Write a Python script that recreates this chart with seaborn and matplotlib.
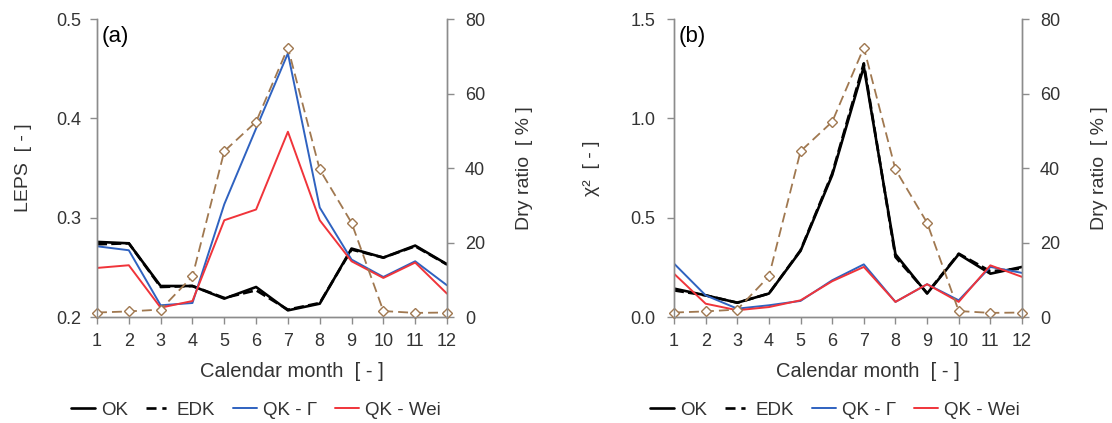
import numpy as np
import pandas as pd
import seaborn as sns
import matplotlib.pyplot as plt
from matplotlib.lines import Line2D

# ---- data -------------------------------------------------------------
months = list(range(1, 13))
dry_ratio = [1.2, 1.5, 2.0, 10.9, 44.5, 52.4, 72.3, 39.6, 25.3, 1.6, 1.1, 1.2]

leps_ok = [0.2756, 0.2742, 0.2312, 0.2312, 0.2185, 0.2302, 0.2067, 0.2134, 0.2689, 0.2598, 0.2719, 0.2531]
leps_edk = [0.2732, 0.2742, 0.2302, 0.2312, 0.2192, 0.2269, 0.2074, 0.2141, 0.2679, 0.2598, 0.2712, 0.2528]
leps_qk_gamma = [0.2712, 0.2672, 0.2118, 0.2141, 0.3135, 0.3898, 0.4654, 0.3102, 0.2578, 0.2403, 0.2561, 0.2319]
leps_qk_wei = [0.2494, 0.2521, 0.2094, 0.2161, 0.2974, 0.3082, 0.3865, 0.2974, 0.2561, 0.2393, 0.2548, 0.2235]

chi_ok = [0.143, 0.109, 0.072, 0.118, 0.333, 0.714, 1.260, 0.316, 0.118, 0.316, 0.218, 0.252]
chi_edk = [0.134, 0.109, 0.072, 0.118, 0.336, 0.722, 1.277, 0.302, 0.121, 0.319, 0.230, 0.244]
chi_qk_gamma = [0.269, 0.109, 0.042, 0.059, 0.081, 0.185, 0.265, 0.076, 0.165, 0.084, 0.252, 0.222]
chi_qk_wei = [0.218, 0.067, 0.034, 0.050, 0.084, 0.180, 0.252, 0.076, 0.165, 0.076, 0.260, 0.202]

method_names = ["OK", "EDK", "QK - Γ", "QK - Wei"]

# ---- styling ----------------------------------------------------------
sns.set_style("white")
plt.rcParams["font.family"] = ["Liberation Sans", "DejaVu Sans"]

TEXT = "#333333"
SPINE = "#8c8c8c"
BROWN = "#a07850"
TICK_FS = 13
LABEL_FS = 14
styles = {
    "OK": dict(color="black", lw=1.9, ls="-"),
    "EDK": dict(color="black", lw=1.9, ls=(0, (3.8, 1.6))),
    "QK - Γ": dict(color="#2f62c0", lw=1.4, ls="-"),
    "QK - Wei": dict(color="#f0343a", lw=1.4, ls="-"),
}


def draw_panel(ax, series, ylim, yticks, ylabel, tag, lpad, ylpad, rlpad):
    df = pd.DataFrame({"month": months * 4,
                       "value": sum(series, []),
                       "method": sum([[m] * 12 for m in method_names], [])})
    for m in ["EDK", "OK", "QK - Γ", "QK - Wei"]:
        st = styles[m]
        sub = df[df["method"] == m]
        sns.lineplot(data=sub, x="month", y="value", ax=ax, color=st["color"],
                     linewidth=st["lw"], linestyle=st["ls"], legend=False)
    ax.set_xlim(1, 12)
    ax.set_ylim(*ylim)
    ax.set_xticks(months)
    ax.set_yticks(yticks)
    ax.set_yticklabels([f"{v:.1f}" for v in yticks])
    ax.set_xlabel("Calendar month  [ - ]", color=TEXT, fontsize=14.5)
    ax.xaxis.set_label_coords(0.557, -0.183, transform=ax.transAxes)
    ax.xaxis.label.set_va("center")
    ax.set_ylabel(ylabel, color=TEXT, fontsize=LABEL_FS, labelpad=ylpad)
    ax.text(0.013, 0.978, tag, transform=ax.transAxes, ha="left", va="top",
            fontsize=16, color="black")

    ax2 = ax.twinx()
    sns.lineplot(x=months, y=dry_ratio, ax=ax2, color=BROWN, linewidth=1.3,
                 linestyle=(0, (5.5, 2.8)), marker="D", markersize=5,
                 markerfacecolor="white", markeredgecolor=BROWN,
                 markeredgewidth=1.0, clip_on=False, legend=False)
    ax2.set_ylim(0, 80)
    ax2.set_yticks([0, 20, 40, 60, 80])
    ax2.set_ylabel("Dry ratio  [ % ]", color=TEXT, fontsize=LABEL_FS, labelpad=rlpad)

    for a in (ax, ax2):
        for s in a.spines.values():
            s.set_color(SPINE)
            s.set_linewidth(1.0)
        a.spines["top"].set_visible(False)
        a.tick_params(colors=SPINE, labelcolor=TEXT, labelsize=TICK_FS,
                      length=5, width=1.0, direction="out")
    ax.tick_params(axis="x", bottom=True, pad=6.5)
    ax.tick_params(axis="y", left=True, pad=lpad)
    ax2.tick_params(axis="y", right=True, pad=8)

    handles = [Line2D([], [], color=styles[m]["color"], lw=styles[m]["lw"],
                      ls=styles[m]["ls"] if m != "EDK" else (0, (3.8, 2.2, 1.6, 6)))
               for m in method_names]
    return handles


fig = plt.figure(figsize=(11.12, 4.23), dpi=100)
ax_a = fig.add_axes([97 / 1112, 1 - 317 / 423, 350 / 1112, 298 / 423])
ax_b = fig.add_axes([674 / 1112, 1 - 317 / 423, 348 / 1112, 298 / 423])

h = draw_panel(ax_a, [leps_ok, leps_edk, leps_qk_gamma, leps_qk_wei],
               (0.2, 0.5), [0.2, 0.3, 0.4, 0.5], "LEPS  [ - ]", "(a)",
               lpad=6.5, ylpad=17, rlpad=22)
draw_panel(ax_b, [chi_ok, chi_edk, chi_qk_gamma, chi_qk_wei],
           (0.0, 1.5), [0.0, 0.5, 1.0, 1.5], "χ²  [ - ]", "(b)",
           lpad=8.5, ylpad=22, rlpad=22)

for cx in (256 / 1112, 835 / 1112):
    fig.legend(h, method_names, loc="center", bbox_to_anchor=(cx, 1 - 410 / 423),
               ncol=4, frameon=False, fontsize=13.5, handlelength=1.28,
               handletextpad=0.33, columnspacing=0.95, labelcolor=TEXT)

fig.savefig("out.png", dpi=100)
